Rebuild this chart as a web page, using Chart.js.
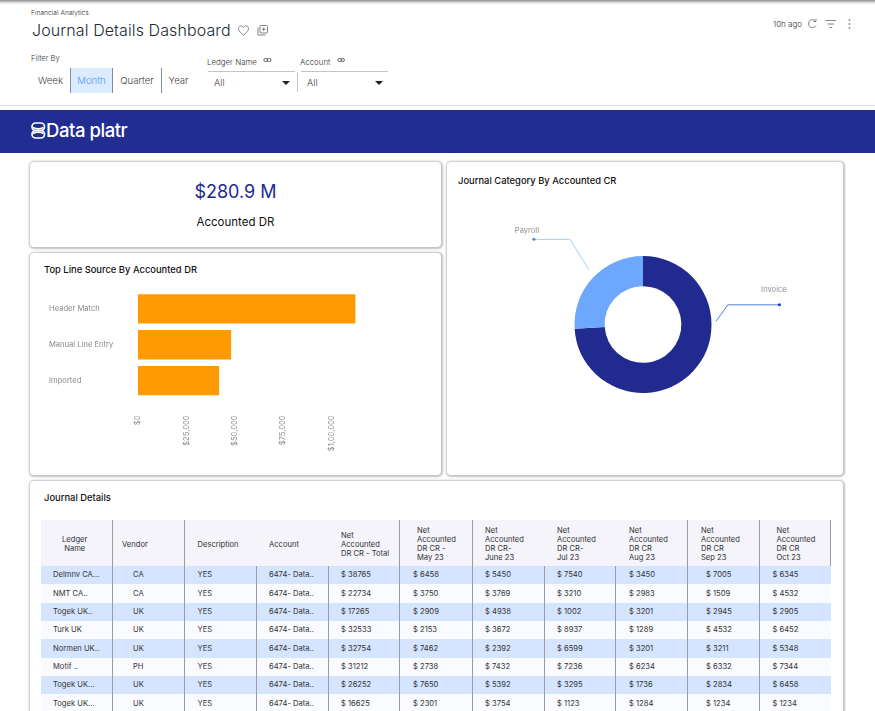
<!DOCTYPE html>
<html>
<head>
<meta charset="utf-8">
<title>Journal Details Dashboard</title>
<script src="https://cdn.jsdelivr.net/npm/chart.js@4"></script>
<style>
    html, body { margin: 0; padding: 0; width: 875px; height: 711px; overflow: hidden; background: #fff; font-family: Inter, sans-serif; }
    .abs { position: absolute; white-space: nowrap; }
    .top-shadow { left: 0; top: 0; width: 875px; height: 5px; background: linear-gradient(#8d8d8d, #e8e8e8 60%, #fff); }
    .card { position: absolute; background: #fff; border-radius: 4px; box-shadow: .5px .5px 2px 1px rgba(110,110,110,.42); }
    .card-title { position: absolute; font-size: 9.4px; font-weight: 500; color: #111; white-space: nowrap; }
    .seg { position: absolute; top: 68px; height: 25px; text-align: center; font: 300 9.6px/26px Inter, sans-serif; color: #444; box-sizing: border-box; }
    .select-line { position: absolute; top: 71px; height: 1px; background: #c4c4c4; }
    .caret { position: absolute; top: 81px; width: 0; height: 0; border-left: 4px solid transparent; border-right: 4px solid transparent; border-top: 4px solid #222; }
    canvas { position: absolute; }
    #detail-table { position: absolute; left: 41px; top: 520px; width: 790px; border-collapse: separate; border-spacing: 0; table-layout: fixed; font-size: 7.6px; color: #333; }
    #detail-table th { height: 46px; background: #f4f4fa; font-weight: 400; text-align: left; line-height: 9px; color: #333; box-sizing: border-box; vertical-align: middle; padding: 2px 0 0 0; }
    #detail-table td { height: 18.35px; line-height: 18px; box-sizing: border-box; padding: 0; white-space: nowrap; overflow: hidden; }
    #detail-table tr.odd td { background: #d6e5ff; }
    #detail-table tr.even td { background: #fafbfe; }
    .line-right { border-right: 1.3px solid #9b9da4; }
</style>
</head>
<body>
<div class="abs top-shadow"></div>

<!-- page header -->
<div class="abs" style="left:31px;top:9px;font-size:6.7px;font-weight:300;color:#333">Financial Analytics</div>
<div class="abs" style="left:32px;top:20px;font-size:16px;font-weight:300;letter-spacing:.1px;color:#222b33">Journal Details Dashboard</div>
<svg class="abs" style="left:237px;top:24px" width="32" height="13" viewBox="0 0 32 13" fill="none" stroke="#777" stroke-width=".9">
    <path d="M6.5 11 C2 7.5 1.5 6 1.5 4.5 C1.5 1.5 5 1 6.5 3.5 C8 1 11.5 1.5 11.5 4.5 C11.5 6 11 7.5 6.5 11Z"/>
    <rect x="23" y="1.5" width="7.5" height="7.5" rx="1"/><path d="M21 3.5 V11 H28.5 M26.7 3.5 V7 M25 5.2 H28.5"/>
</svg>
<div class="abs" style="left:773px;top:19px;font-size:8px;font-weight:300;color:#333">10h ago</div>
<svg class="abs" style="left:806px;top:17px" width="50" height="14" viewBox="0 0 50 14" fill="none" stroke="#777" stroke-width=".9">
    <path d="M9.5 4 A4 4 0 1 0 10 8.5 M10 1.8 V4.5 H7.3"/>
    <path d="M19.5 3.5 H30 M21.5 7 H28 M23.5 10.5 H26"/>
    <circle cx="43.5" cy="3" r=".6"/><circle cx="43.5" cy="7" r=".6"/><circle cx="43.5" cy="11" r=".6"/>
</svg>

<!-- filters -->
<div class="abs" style="left:31px;top:54px;font-size:7.6px;font-weight:300;color:#333">Filter By</div>
<div class="seg" style="left:31px;width:39px">Week</div>
<div class="seg" style="left:70px;width:43px;background:#dcecff;color:#4a9bf5;border-left:1px solid #7d8fa3;border-right:1px solid #7d8fa3">Month</div>
<div class="seg" style="left:113px;width:49px;border-right:1px solid #7d8fa3">Quarter</div>
<div class="seg" style="left:162px;width:33px">Year</div>
<div class="abs" style="left:207px;top:57px;font-size:7.9px;font-weight:300;color:#333">Ledger Name</div>
<div class="abs" style="left:300px;top:57px;font-size:7.9px;font-weight:300;color:#333">Account</div>
<svg class="abs" style="left:263px;top:57px" width="82" height="8" viewBox="0 0 82 8" fill="none" stroke="#555" stroke-width=".9">
    <rect x=".8" y="1.5" width="4" height="3" rx="1.5"/><rect x="4" y="1.5" width="4" height="3" rx="1.5"/>
    <rect x="74.8" y="1.5" width="4" height="3" rx="1.5"/><rect x="78" y="1.5" width="3.4" height="3" rx="1.5"/>
</svg>
<div class="select-line" style="left:208px;width:87px"></div>
<div class="select-line" style="left:301px;width:87px"></div>
<div class="abs" style="left:297px;top:73px;width:1px;height:19px;background:#c4c4c4"></div>
<div class="abs" style="left:214px;top:77px;font-size:9.3px;font-weight:300;color:#444">All</div>
<div class="abs" style="left:307px;top:77px;font-size:9.3px;font-weight:300;color:#444">All</div>
<div class="caret" style="left:282px"></div>
<div class="caret" style="left:375px"></div>
<div class="abs" style="left:0;top:105px;width:875px;height:1px;background:#e3e3e3"></div>

<!-- brand bar -->
<div class="abs" style="left:0;top:110px;width:875px;height:43px;background:#222d91"></div>
<svg class="abs" style="left:31px;top:122px" width="15" height="17" viewBox="0 0 15 17" fill="none" stroke="#fff" stroke-width="1.7">
    <rect x="1" y="1" width="12.5" height="7.5" rx="3.7"/><rect x="1" y="8.5" width="12.5" height="7.5" rx="3.7"/>
    <path d="M2 5.5 C5 7 9.5 7 12.5 5.5 M2 11.5 C5 10 9.5 10 12.5 11.5"/>
</svg>
<div class="abs" style="left:46px;top:119px;font-size:18.5px;font-weight:500;letter-spacing:-.45px;color:#fff">Data platr</div>

<!-- KPI card -->
<div class="card" style="left:30px;top:162px;width:411px;height:85px"></div>
<div class="abs" style="left:30px;width:411px;top:181px;text-align:center;font-size:18px;color:#1d2a8c">$280.9 M</div>
<div class="abs" style="left:30px;width:411px;top:215px;text-align:center;font-size:11.5px;color:#111">Accounted DR</div>

<!-- bar card -->
<div class="card" style="left:30px;top:253px;width:411px;height:222px"></div>
<div class="card-title" style="left:44px;top:264px">Top Line Source By Accounted DR</div>
<canvas id="source-chart" width="411" height="222" style="left:30px;top:253px"></canvas>

<!-- donut card -->
<div class="card" style="left:447px;top:162px;width:396px;height:313px"></div>
<div class="card-title" style="left:458px;top:175px">Journal Category By Accounted CR</div>
<canvas id="category-chart" width="396" height="313" style="left:447px;top:162px"></canvas>

<!-- table card -->
<div class="card" style="left:30px;top:481px;width:813px;height:260px"></div>
<div class="card-title" style="left:44px;top:492px">Journal Details</div>
<table id="detail-table"></table>

<script>
    // Bar chart data
    const sourceLabels = ['Header Match', 'Manual Line Entry', 'Imported'];
    const sourceValues = [112300, 48100, 41900];
    const sourceTickLabels = ['$0', '$25,000', '$50,000', '$75,000', '$1,00,000'];

    // Donut chart data
    const categoryLabels = ['Invoice', 'Payroll'];
    const categoryValues = [74, 26];

    // Table data, one list per column
    const tableHeaders = [['Ledger', 'Name'], ['Vendor'], ['Description'], ['Account'],
        ['Net', 'Accounted', 'DR CR - Total'], ['Net', 'Accounted', 'DR CR -', 'May 23'],
        ['Net', 'Accounted', 'DR CR-', 'June 23'], ['Net', 'Accounted', 'DR CR-', 'Jul 23'],
        ['Net', 'Accounted', 'DR CR', 'Aug 23'], ['Net', 'Accounted', 'DR CR', 'Sep 23'],
        ['Net', 'Accounted', 'DR CR', 'Oct 23']];
    const ledgerNames = ['Delmnv CA...', 'NMT CA..', 'Togek UK..', 'Turk UK', 'Normen UK..', 'Motif ..', 'Togek UK...', 'Togek UK...'];
    const vendors = ['CA', 'CA', 'UK', 'UK', 'UK', 'PH', 'UK', 'UK'];
    const descriptions = ['YES', 'YES', 'YES', 'YES', 'YES', 'YES', 'YES', 'YES'];
    const accounts = ['6474- Data..', '6474- Data..', '6474- Data..', '6474- Data..', '6474- Data..', '6474- Data..', '6474- Data..', '6474- Data..'];
    const totals = [38765, 22734, 17265, 32533, 32754, 31212, 26252, 16625];
    const may23 = [6458, 3750, 2909, 2153, 7462, 2738, 7650, 2301];
    const june23 = [5450, 3769, 4938, 3672, 2392, 7432, 5392, 3754];
    const jul23 = [7540, 3210, 1002, 8937, 6599, 7236, 3295, 1123];
    const aug23 = [3450, 2983, 3201, 1289, 3201, 6234, 1736, 1284];
    const sep23 = [7005, 1509, 2945, 4532, 3211, 6332, 2834, 1234];
    const oct23 = [6345, 4532, 2905, 6452, 5348, 7344, 6458, 1234];

    // Column layout for the table
    const colWidths = [71.5, 72, 72.5, 71.5, 71.5, 72.5, 72, 71.5, 72, 71.5, 71.5];
    const headPad = [0, 9.5, 13, 12, 12.5, 17, 12.5, 12.5, 13, 13, 17];
    const cellPad = [12, 20.5, 13, 12, 12.5, 13, 12.5, 12.5, 13, 18, 13];
    const headLines = [0, 1, 4, 5, 8, 9, 10];

    function money(list) {
        return list.map(function(v) { return '$ ' + v; });
    }

    // Fill the html table from the column lists
    function buildTable() {
        const columns = [ledgerNames, vendors, descriptions, accounts, money(totals), money(may23),
            money(june23), money(jul23), money(aug23), money(sep23), money(oct23)];
        let html = '<colgroup>' + colWidths.map(function(w) { return '<col style="width:' + w + 'px">'; }).join('') + '</colgroup><tr>';
        tableHeaders.forEach(function(lines, i) {
            const cls = headLines.includes(i) ? ' class="line-right"' : '';
            const align = i === 0 ? 'text-align:center;padding-right:3px' : 'padding-left:' + headPad[i] + 'px';
            html += '<th' + cls + ' style="' + align + '">' + lines.join('<br>') + '</th>';
        });
        html += '</tr>';
        ledgerNames.forEach(function(name, r) {
            html += '<tr class="' + (r % 2 === 0 ? 'odd' : 'even') + '">';
            columns.forEach(function(col, c) {
                const cls = c < columns.length - 1 ? ' class="line-right"' : '';
                html += '<td' + cls + ' style="padding-left:' + cellPad[c] + 'px">' + col[r] + '</td>';
            });
            html += '</tr>';
        });
        document.getElementById('detail-table').innerHTML = html;
    }

    // Horizontal bars
    function initializeSourceChart() {
        new Chart(document.getElementById('source-chart'), {
            type: 'bar',
            data: {
                labels: sourceLabels,
                datasets: [{
                    data: sourceValues,
                    backgroundColor: '#ff9a03',
                    barPercentage: 1,
                    categoryPercentage: 0.82
                }]
            },
            options: {
                indexAxis: 'y',
                responsive: false,
                animation: false,
                layout: { padding: { left: 19, right: 61, top: 38, bottom: 0 } },
                plugins: { legend: { display: false }, tooltip: { enabled: false } },
                scales: {
                    x: {
                        min: 0,
                        max: 125000,
                        grid: { display: false, drawTicks: false },
                        border: { display: false },
                        afterFit: function(scale) { scale.height = 76.5; },
                        ticks: {
                            stepSize: 25000,
                            autoSkip: false,
                            minRotation: 90,
                            maxRotation: 90,
                            padding: 17,
                            color: '#8a8a8a',
                            font: { family: 'Inter', size: 7.6 },
                            callback: function(value, index) { return sourceTickLabels[index] || ''; }
                        }
                    },
                    y: {
                        grid: { display: false, drawTicks: false },
                        border: { display: false },
                        afterFit: function(scale) { scale.width = 89; },
                        ticks: {
                            crossAlign: 'far',
                            color: '#8a8a8a',
                            font: { family: 'Inter', size: 7.6 }
                        }
                    }
                }
            }
        });
    }

    // Leader lines and labels for the donut, anchored on the arc centre
    const leaderPlugin = {
        id: 'leaders',
        afterDatasetsDraw: function(chart) {
            const ctx = chart.ctx;
            const arcs = chart.getDatasetMeta(0).data;
            const leaders = [
                { angle: -2.4, radius: 73, elbow: [12, -16.6], end: [63.5, -16.6], text: [58, -32], line: '#4f7fdc', dot: '#1338c4' },
                { angle: -134.6, radius: 77, elbow: [-19, -30.3], end: [-55, -30.3], text: [-62, -39], line: '#a9ccff', dot: '#4a8cf5' }
            ];
            leaders.forEach(function(l, i) {
                const rad = l.angle * Math.PI / 180;
                const sx = arcs[i].x + l.radius * Math.cos(rad);
                const sy = arcs[i].y + l.radius * Math.sin(rad);
                ctx.save();
                ctx.strokeStyle = l.line;
                ctx.lineWidth = 1;
                ctx.beginPath();
                ctx.moveTo(sx, sy);
                ctx.lineTo(sx + l.elbow[0], sy + l.elbow[1]);
                ctx.lineTo(sx + l.end[0], sy + l.end[1]);
                ctx.stroke();
                ctx.fillStyle = l.dot;
                ctx.beginPath();
                ctx.arc(sx + l.end[0], sy + l.end[1], 1.5, 0, Math.PI * 2);
                ctx.fill();
                ctx.fillStyle = '#8f8f8f';
                ctx.font = '7.6px Inter';
                ctx.textAlign = 'center';
                ctx.textBaseline = 'middle';
                ctx.fillText(categoryLabels[i], sx + l.text[0], sy + l.text[1]);
                ctx.restore();
            });
        }
    };

    function initializeCategoryChart() {
        new Chart(document.getElementById('category-chart'), {
            type: 'doughnut',
            data: {
                labels: categoryLabels,
                datasets: [{
                    data: categoryValues,
                    backgroundColor: ['#212b8f', '#6ea8fe'],
                    borderWidth: 0
                }]
            },
            options: {
                responsive: false,
                animation: false,
                radius: 68.5,
                cutout: '56%',
                layout: { padding: { right: 4, top: 12 } },
                plugins: { legend: { display: false }, tooltip: { enabled: false } }
            },
            plugins: [leaderPlugin]
        });
    }

    buildTable();
    initializeSourceChart();
    initializeCategoryChart();
</script>
</body>
</html>
